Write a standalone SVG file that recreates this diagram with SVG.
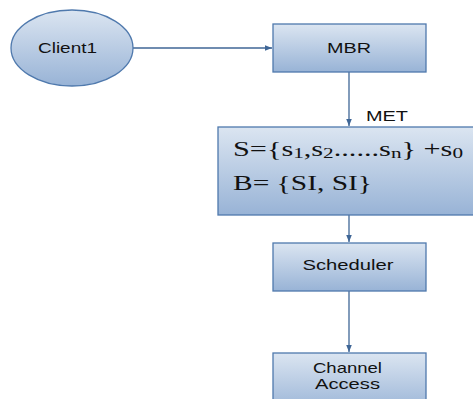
<svg xmlns="http://www.w3.org/2000/svg" width="473" height="399" viewBox="0 0 473 399">
<style>
.node{fill:url(#g);stroke:#4f79ad;stroke-width:1.3}
.lbl{font-family:"Liberation Sans",Arial,sans-serif;font-size:15px;fill:#111;text-anchor:middle}
.math{font-family:"Liberation Serif","Times New Roman",serif;font-size:20px;fill:#111}
.sub{font-size:14px}
.edge{stroke:#3f6696;stroke-width:1.3;fill:none;marker-end:url(#ah)}
</style>
<defs>
<linearGradient id="g" x1="0" y1="0" x2="0" y2="1">
<stop offset="0" stop-color="#dbe5f1"/>
<stop offset="1" stop-color="#98b3d6"/>
</linearGradient>
<marker id="ah" viewBox="0 0 10 10" refX="10" refY="5" markerWidth="8" markerHeight="7" markerUnits="userSpaceOnUse" orient="auto">
<path d="M0,1 L10,5 L0,9 z" fill="#3f6696"/>
</marker>
</defs>
<g id="connectors">
<line class="edge" x1="133" y1="48" x2="272" y2="48"/>
<line class="edge" x1="349" y1="72" x2="349" y2="126"/>
<line class="edge" x1="349" y1="215" x2="349" y2="242"/>
<line class="edge" x1="349" y1="291" x2="349" y2="352"/>
<text x="366" y="121" class="lbl" style="text-anchor:start" textLength="42" lengthAdjust="spacingAndGlyphs">MET</text>
</g>
<g id="client1">
<ellipse class="node" cx="72" cy="48" rx="61" ry="38"/>
<text x="67.5" y="53" class="lbl" textLength="59" lengthAdjust="spacingAndGlyphs">Client1</text>
</g>
<g id="mbr">
<rect class="node" x="273" y="24" width="153" height="48"/>
<text x="349" y="53" class="lbl" textLength="44" lengthAdjust="spacingAndGlyphs">MBR</text>
</g>
<g id="sets">
<rect class="node" x="218" y="127" width="270" height="88"/>
<text x="233" y="156" class="math" textLength="230" lengthAdjust="spacingAndGlyphs">S={s<tspan class="sub" dy="2">1</tspan><tspan dy="-2">,s</tspan><tspan class="sub" dy="2">2</tspan><tspan dy="-2">......s</tspan><tspan class="sub" dy="2">n</tspan><tspan dy="-2">} +s</tspan><tspan class="sub" dy="2">0</tspan></text>
<text x="233" y="190" class="math" textLength="139" lengthAdjust="spacingAndGlyphs">B= {SI, SI}</text>
</g>
<g id="scheduler">
<rect class="node" x="273" y="243" width="153" height="48"/>
<text x="348" y="270" class="lbl" textLength="91" lengthAdjust="spacingAndGlyphs">Scheduler</text>
</g>
<g id="channel">
<rect class="node" x="273" y="353" width="153" height="60"/>
<text x="347.5" y="373" class="lbl" textLength="69" lengthAdjust="spacingAndGlyphs">Channel</text>
<text x="347.5" y="389" class="lbl" textLength="65" lengthAdjust="spacingAndGlyphs">Access</text>
</g>
</svg>
